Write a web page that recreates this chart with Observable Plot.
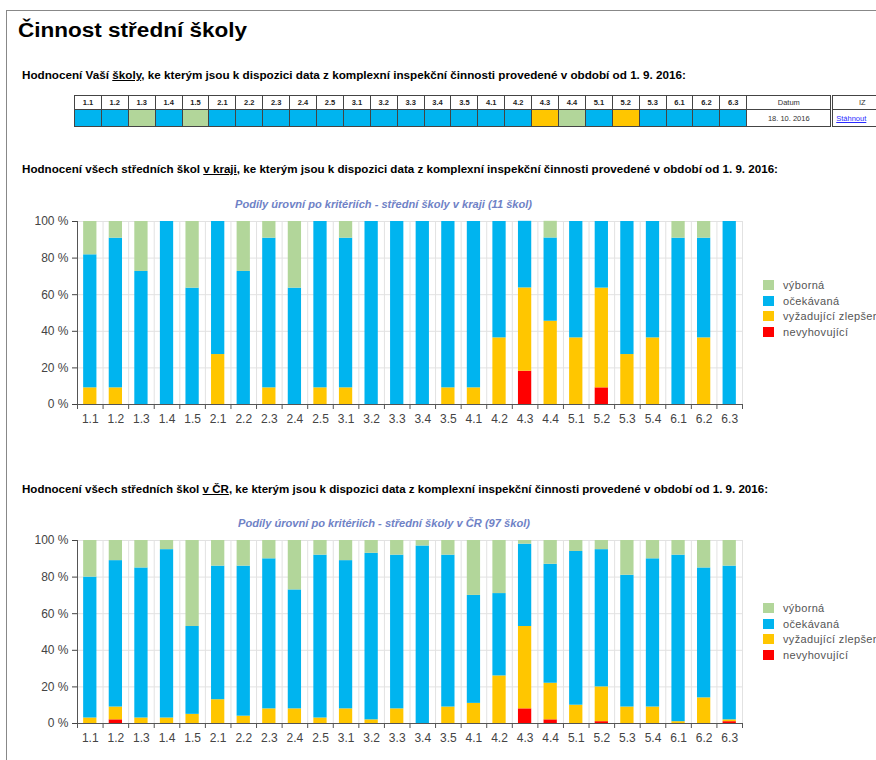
<!DOCTYPE html>
<html><head><meta charset="utf-8">
<script src="https://cdn.jsdelivr.net/npm/d3@7"></script>
<script src="https://cdn.jsdelivr.net/npm/@observablehq/plot@0.6"></script>
<style>
html,body{margin:0;padding:0;background:#fff;overflow:hidden;width:876px;height:760px;}
body{position:relative;font-family:"Liberation Sans",Arial,sans-serif;color:#000;}
.abs{position:absolute;white-space:nowrap;}
.fit{display:inline-block;transform-origin:left center;}
.heading{font-size:11px;font-weight:bold;line-height:13px;}
.ctitle{font-size:11px;font-weight:bold;font-style:italic;color:#6f82c6;line-height:13px;}
table.my{border-collapse:collapse;table-layout:fixed;font-size:7.5px;width:818px;}
table.my td{border:1px solid #444;padding:0;text-align:center;overflow:hidden;}
table.my tr.h td{height:13px;font-weight:bold;color:#222;}
table.my tr.d td{height:16px;}
.leg{font-size:11px;color:#555;letter-spacing:0.35px;line-height:13px;}
.sw{display:inline-block;width:11px;height:10px;vertical-align:-1px;margin-right:9px;}
</style></head>
<body>
<div class="abs" style="left:6px;top:10px;width:880px;border-top:1px solid #888;"></div>
<div class="abs" style="left:6px;top:10px;height:760px;border-left:1px solid #888;"></div>
<div class="abs" style="left:18px;top:20px;font-size:20px;font-weight:bold;line-height:20px;"><span class="fit" id="t0">Činnost střední školy</span></div>
<div class="abs heading" style="left:22px;top:69px;"><span class="fit" id="h1">Hodnocení Vaší <u>školy</u>, ke kterým jsou k dispozici data z komplexní inspekční činnosti provedené v období od 1. 9. 2016:</span></div>
<div class="abs" id="tbl" style="left:74px;top:95px;width:818px;"></div>
<div class="abs heading" style="left:22px;top:163px;"><span class="fit" id="h2">Hodnocení všech středních škol <u>v kraji</u>, ke kterým jsou k dispozici data z komplexní inspekční činnosti provedené v období od 1. 9. 2016:</span></div>
<div class="abs ctitle" style="left:235px;top:198px;"><span class="fit" id="c1">Podíly úrovní po kritériích - střední školy v kraji (11 škol)</span></div>
<div class="abs" id="chart1" style="left:0;top:200px;"></div>
<div class="abs" id="leg1" style="left:763px;top:279px;"></div>
<div class="abs heading" style="left:22px;top:483px;"><span class="fit" id="h3">Hodnocení všech středních škol <u>v ČR</u>, ke kterým jsou k dispozici data z komplexní inspekční činnosti provedené v období od 1. 9. 2016:</span></div>
<div class="abs ctitle" style="left:238px;top:517px;"><span class="fit" id="c2">Podíly úrovní po kritériích - střední školy v ČR (97 škol)</span></div>
<div class="abs" id="chart2" style="left:0;top:519px;"></div>
<div class="abs" id="leg2" style="left:763px;top:602px;"></div>
<script>
// ---------- data ----------
const criteria = ["1.1","1.2","1.3","1.4","1.5","2.1","2.2","2.3","2.4","2.5","3.1","3.2","3.3","3.4","3.5","4.1","4.2","4.3","4.4","5.1","5.2","5.3","5.4","6.1","6.2","6.3"];
const levels = ["nevyhovující","vyžadující zlepšení","očekávaná","výborná"]; // bottom -> top
const levelColors = ["#ff0000","#ffc600","#00b4ef","#b2d69a"];
const yTicks = [0,20,40,60,80,100];

// Kraj (11 škol), percent
const krajNevyhovujici = [0,0,0,0,0,0,0,0,0,0,0,0,0,0,0,0,0,18.2,0,0,9.1,0,0,0,0,0];
const krajVyzadujici   = [9.1,9.1,0,0,0,27.3,0,9.1,0,9.1,9.1,0,0,0,9.1,9.1,36.4,45.5,45.5,36.4,54.5,27.3,36.4,0,36.4,0];
const krajOcekavana    = [72.7,81.8,72.7,100,63.6,72.7,72.7,81.8,63.6,90.9,81.8,100,100,100,90.9,90.9,63.6,36.4,45.5,63.6,36.4,72.7,63.6,90.9,54.5,100];
const krajVyborna      = [18.2,9.1,27.3,0,36.4,0,27.3,9.1,36.4,0,9.1,0,0,0,0,0,0,0,9.1,0,0,0,0,9.1,9.1,0];

// ČR (97 škol), percent
const crNevyhovujici = [0,2,0,0,0,0,0,0,0,0,0,0,0,0,0,0,0,8,2,0,1,0,0,0,0,1];
const crVyzadujici   = [3,7,3,3,5,13,4,8,8,3,8,2,8,0,9,11,26,45,20,10,19,9,9,1,14,1];
const crOcekavana    = [77,80,82,92,48,73,82,82,65,89,81,91,84,97,83,59,45,45,65,84,75,72,81,91,71,84];
const crVyborna      = [20,11,15,5,47,14,14,10,27,8,11,7,8,3,8,30,29,2,13,6,5,19,10,8,15,14];

// Vaše škola table
const tableCriteria = ["1.1","1.2","1.3","1.4","1.5","2.1","2.2","2.3","2.4","2.5","3.1","3.2","3.3","3.4","3.5","4.1","4.2","4.3","4.4","5.1","5.2","5.3","6.1","6.2","6.3"];
const myRatings = ["očekávaná","očekávaná","výborná","očekávaná","výborná","očekávaná","očekávaná","očekávaná","očekávaná","očekávaná","očekávaná","očekávaná","očekávaná","očekávaná","očekávaná","očekávaná","očekávaná","vyžadující zlepšení","výborná","očekávaná","vyžadující zlepšení","očekávaná","očekávaná","očekávaná","očekávaná"];
const myDate = "18. 10. 2016";
const myLink = "Stáhnout";
const legendOrder = ["výborná","očekávaná","vyžadující zlepšení","nevyhovující"];

// ---------- table ----------
const colorOf = lv => levelColors[levels.indexOf(lv)];
let html = '<table class="my"><colgroup>' + tableCriteria.map(()=>'<col style="width:26.9px">').join('') +
  '<col style="width:85px"><col style="width:60px"></colgroup>';
html += '<tr class="h">' + tableCriteria.map(c=>`<td>${c}</td>`).join('') + '<td style="font-weight:normal;color:#333">Datum</td><td style="border-left:3px double #444;font-weight:normal;color:#333">IZ</td></tr>';
html += '<tr class="d">' + myRatings.map(r=>`<td style="background:${colorOf(r)}"></td>`).join('') +
  `<td style="color:#333">${myDate}</td><td style="border-left:3px double #444;text-align:left;padding-left:3px"><a href="#" style="color:#2a2aff">${myLink}</a></td></tr></table>`;
document.getElementById("tbl").innerHTML = html;

// ---------- charts ----------
function makeChart(series) {
  const rows = criteria.flatMap((k, i) => levels.map((lv, j) => ({k, level: lv, v: series[j][i]})));
  const W = 760, H = 230, mL = 77, mR = 18, mT = 21, mB = 26;
  const step = (W - mL - mR) / criteria.length;
  const plotH = H - mT - mB;
  return Plot.plot({
    width: W, height: H, marginLeft: mL, marginRight: mR, marginTop: mT, marginBottom: mB,
    style: {fontFamily: "Liberation Sans, Arial, sans-serif", fontSize: "12px", color: "#444", background: "transparent", overflow: "visible"},
    x: {domain: criteria, padding: 0, round: false, label: null},
    y: {domain: [0, 100], label: null},
    color: {domain: levels, range: levelColors},
    marks: [
      Plot.ruleX(criteria, {x: d => d, dx: -step / 2, stroke: "#e2e2e2"}),
      Plot.ruleX(criteria.slice(-1), {x: d => d, dx: step / 2, stroke: "#e2e2e2"}),
      Plot.ruleY(yTicks.slice(1), {stroke: "#e2e2e2"}),
      Plot.barY(rows, {x: "k", y: "v", z: "level", fill: "level", insetLeft: 6.15, insetRight: 6.15}),
      Plot.ruleX(criteria, {x: d => d, dx: -step / 2, insetTop: plotH, insetBottom: -5, stroke: "#555"}),
      Plot.ruleX(criteria.slice(-1), {x: d => d, dx: step / 2, insetTop: plotH, insetBottom: -5, stroke: "#555"}),
      Plot.ruleX(criteria.slice(0, 1), {x: d => d, dx: -step / 2, stroke: "#555"}),
      Plot.ruleY([0], {stroke: "#555"}),
      Plot.axisY({ticks: yTicks, tickFormat: d => d + " %", tickSize: 5, tickPadding: 4, fontSize: 12}),
      Plot.axisX({tickSize: 0, tickPadding: 10, fontSize: 12})
    ]
  });
}
document.getElementById("chart1").append(makeChart([krajNevyhovujici, krajVyzadujici, krajOcekavana, krajVyborna]));
document.getElementById("chart2").append(makeChart([crNevyhovujici, crVyzadujici, crOcekavana, crVyborna]));

function legend(id) {
  document.getElementById(id).innerHTML = legendOrder.map(lv =>
    `<div class="leg" style="height:15.6px"><span class="sw" style="background:${colorOf(lv)}"></span>${lv}</div>`).join('');
}
legend("leg1"); legend("leg2");

// fit text widths
function fit(id, w) {
  const el = document.getElementById(id);
  const r = el.getBoundingClientRect().width;
  el.style.transform = `scaleX(${w / r})`;
}
fit("t0", 229); fit("h1", 664); fit("h2", 756); fit("h3", 746); fit("c1", 297); fit("c2", 292);
</script>
</body></html>
